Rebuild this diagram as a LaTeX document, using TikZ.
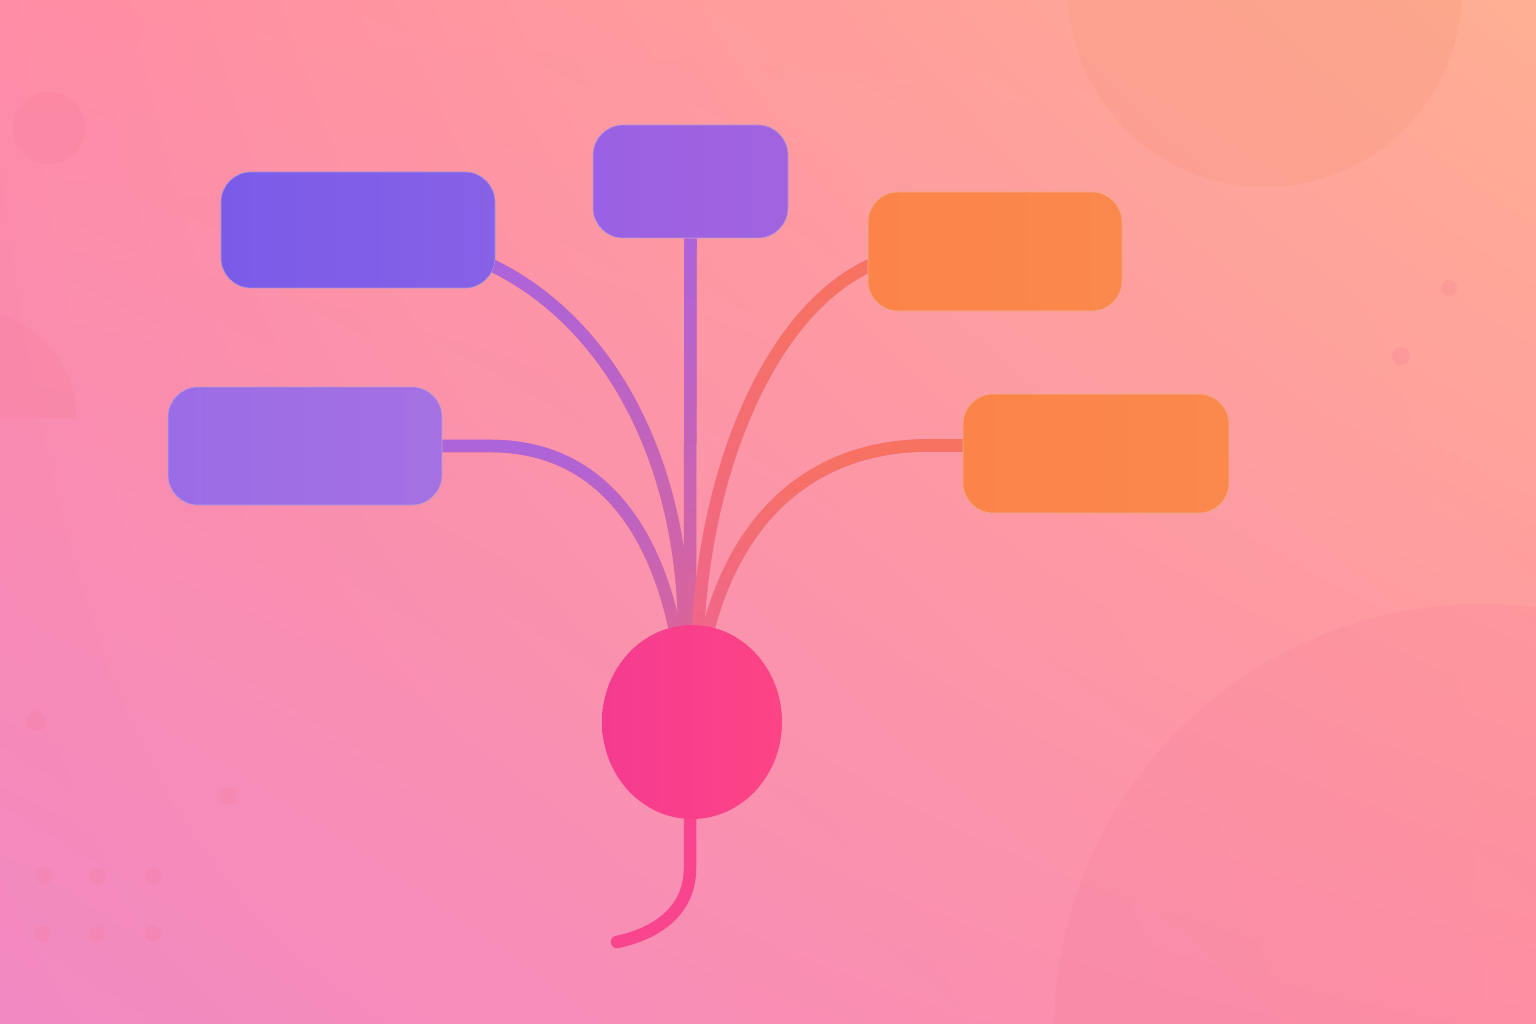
\documentclass[tikz,border=0pt]{standalone}
\usetikzlibrary{shapes.geometric,fadings,calc,shadings}
\definecolor{bgUL}{HTML}{FF8DA5}
\definecolor{bgUR}{HTML}{FFB690}
\definecolor{bgLL}{HTML}{F08AC8}
\definecolor{bgLR}{HTML}{FF94A6}
\definecolor{bgTint}{HTML}{FF88A8}
\definecolor{boxA}{HTML}{7A5BE8}
\definecolor{boxAr}{HTML}{8761E6}
\definecolor{boxB}{HTML}{9A61E4}
\definecolor{boxBr}{HTML}{A263DE}
\definecolor{boxC}{HTML}{9A6CE6}
\definecolor{boxCr}{HTML}{A571E2}
\definecolor{boxO}{HTML}{FC8449}
\definecolor{boxOr}{HTML}{FB884C}
\definecolor{bulbL}{HTML}{F53B90}
\definecolor{bulbR}{HTML}{FD4485}
\definecolor{connP}{HTML}{AC63DC}
\definecolor{connO}{HTML}{F8735F}
\definecolor{connPink}{HTML}{DC6598}
\definecolor{connPinkO}{HTML}{F0668C}
\definecolor{tailc}{HTML}{F8458E}
\definecolor{decoO}{HTML}{F4906F}
\definecolor{decoP}{HTML}{F57895}
\tikzfading[name=fadedown, top color=transparent!0, bottom color=transparent!100]
\pgfdeclarelayer{bglayer}
\pgfdeclarelayer{connlayer}
\pgfsetlayers{bglayer,connlayer,main}
\begin{document}
\begin{tikzpicture}[x=1pt,y=-1pt,
  boxnode/.style={rectangle, rounded corners=30pt, inner sep=0pt, line width=0.6pt},
  conn/.style={line width=12.5pt, line cap=butt},
  deco/.style={fill=decoP, fill opacity=0.2},
  dot/.style={fill=decoP, fill opacity=0.22}]
\useasboundingbox (0,0) rectangle (1536,1024);
\begin{pgfonlayer}{bglayer}
\shade[upper left=bgUL, upper right=bgUR, lower left=bgLL, lower right=bgLR] (0,0) rectangle (1536,1024);
\fill[bgTint, fill opacity=0.15] (0,0) rectangle (1536,1024);
\begin{scope}
\clip (0,0) rectangle (1536,1024);
\fill[fill=decoO, fill opacity=0.2] (1265,-10) circle [radius=197];
\fill[deco, fill opacity=0.17] (1482,1032) circle [radius=428];
\fill[deco] (49,128) circle [radius=36];
\fill[deco] (76,418) arc[start angle=0, end angle=-180, radius=108] -- cycle;
\foreach \px/\py/\pr in {1449/288/8, 1401/356/9, 36/721/10, 228/796/8,
  44/876/8, 97/876/8, 153/876/8, 42/934/8, 97/934/8, 153/934/8}
  \fill[dot] (\px,\py) circle [radius=\pr];
\end{scope}
\end{pgfonlayer}
% nodes
\node[boxnode, left color=boxA, right color=boxAr, draw=boxA!85!black!60, minimum width=274pt, minimum height=116pt] (b1) at (358,230) {};
\node[boxnode, left color=boxB, right color=boxBr, draw=boxB!85!black!60, minimum width=195pt, minimum height=113pt] (b2) at (690.5,181.5) {};
\node[boxnode, left color=boxO, right color=boxOr, draw=boxO!90!black!60, minimum width=254pt, minimum height=119pt] (b3) at (995,251.5) {};
\node[boxnode, left color=boxC, right color=boxCr, draw=boxC!85!black!60, minimum width=274pt, minimum height=118pt] (b4) at (305,446) {};
\node[boxnode, left color=boxO, right color=boxOr, draw=boxO!90!black!60, minimum width=266pt, minimum height=119pt] (b5) at (1096,453.5) {};
\node[ellipse, inner sep=0pt, minimum width=180pt, minimum height=194pt, left color=bulbL, right color=bulbR] (r) at (692,722) {};
\coordinate (e1) at ($(r.north)+(-8,8)$);
\coordinate (e2) at ($(r.north)+(-2,8)$);
\coordinate (e3) at ($(r.north)+(6,8)$);
\coordinate (e4) at ($(r.north)+(-16,10)$);
\coordinate (e5) at ($(r.north)+(15,10)$);
\coordinate (s1) at ($(b1.east)+(-4,35)$);
\coordinate (s3) at ($(b3.west)+(4,13)$);
\coordinate (k4) at ($(b4.east)+(48,0)$);
\coordinate (k5) at ($(b5.west)+(-33,-8)$);
\coordinate (tailend) at (617,942);
\begin{pgfonlayer}{connlayer}
% c1
\draw[conn, draw=connPink] (s1) .. controls (615,325) and (684,470) .. (e1);
\draw[conn, draw=connP, path fading=fadedown] (s1) .. controls (615,325) and (684,470) .. (e1);
% c2
\draw[conn, draw=connPink] (b2.south) -- (e2);
\draw[conn, draw=connP, path fading=fadedown] (b2.south) -- (e2);
% c3
\draw[conn, draw=connPinkO] (s3) .. controls (770,310) and (705,470) .. (e3);
\draw[conn, draw=connO, path fading=fadedown] (s3) .. controls (770,310) and (705,470) .. (e3);
% c4
\draw[conn, draw=connPink] (b4.east) -- (k4) .. controls (600,446) and (655,530) .. (e4);
\draw[conn, draw=connP, path fading=fadedown] (b4.east) -- (k4) .. controls (600,446) and (655,530) .. (e4);
% c5
\draw[conn, draw=connPinkO] ($(b5.west)+(4,-8)$) -- (k5) .. controls (810,445) and (735,520) .. (e5);
\draw[conn, draw=connO, path fading=fadedown] ($(b5.west)+(4,-8)$) -- (k5) .. controls (810,445) and (735,520) .. (e5);
% tail
\draw[line width=12.5pt, line cap=round, draw=tailc] ($(r.south)+(-2,-8)$) -- (690,868) .. controls (690,912) and (655,934) .. (tailend);
\end{pgfonlayer}
\end{tikzpicture}
\end{document}
